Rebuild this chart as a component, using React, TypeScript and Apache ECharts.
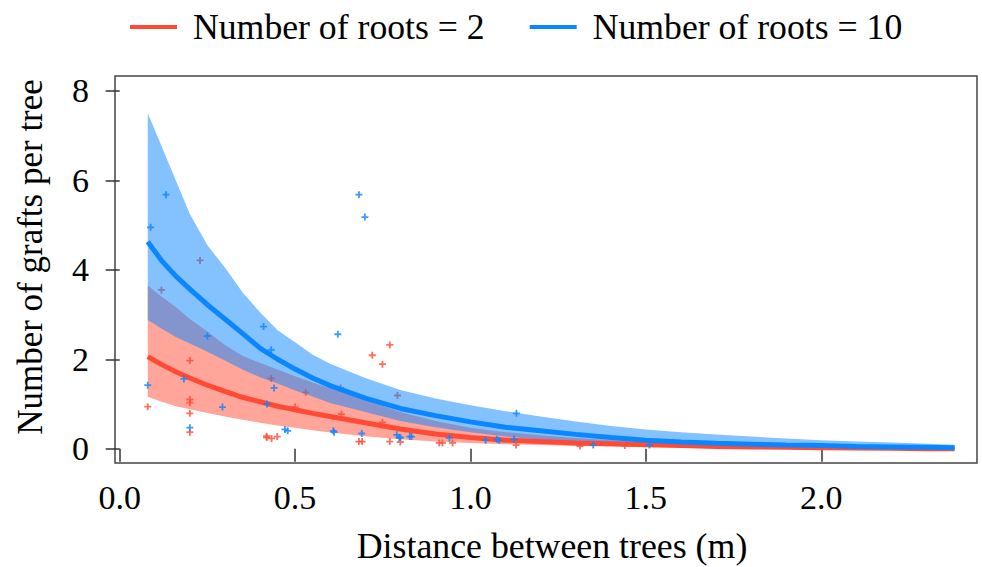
import React, { useEffect, useRef } from "react";
import * as echarts from "echarts";

const FONT = "Liberation Serif";
const RED = "#ff4b36";
const BLUE = "#0a86ff";

const seriesNames = ["Number of roots = 2", "Number of roots = 10"];
const xTicks = [0, 0.5, 1, 1.5, 2];
const xTickLabels = ["0.0", "0.5", "1.0", "1.5", "2.0"];
const yTicks = [0, 2, 4, 6, 8];
const yTickLabels = ["0", "2", "4", "6", "8"];

const distGrid = [0.08, 0.12, 0.16, 0.2, 0.25, 0.3, 0.35, 0.4, 0.45, 0.5, 0.55, 0.6, 0.7, 0.8, 0.9, 1.0, 1.1, 1.2, 1.3, 1.4, 1.5, 1.6, 1.7, 1.8, 1.9, 2.0, 2.1, 2.2, 2.3, 2.38];

const redMean = [2.06, 1.88, 1.72, 1.58, 1.42, 1.28, 1.15, 1.05, 0.95, 0.87, 0.79, 0.72, 0.58, 0.44, 0.33, 0.25, 0.19, 0.16, 0.13, 0.11, 0.09, 0.07, 0.05, 0.04, 0.03, 0.02, 0.015, 0.01, 0.0, 0.0];
const redUpper = [3.65, 3.4, 3.17, 2.9, 2.62, 2.32, 2.08, 1.92, 1.77, 1.62, 1.48, 1.35, 1.1, 0.82, 0.62, 0.47, 0.37, 0.3, 0.24, 0.19, 0.15, 0.12, 0.1, 0.08, 0.07, 0.05, 0.04, 0.03, 0.02, 0.02];
const redLower = [1.16, 1.05, 0.95, 0.88, 0.8, 0.72, 0.65, 0.58, 0.52, 0.47, 0.41, 0.36, 0.28, 0.21, 0.16, 0.13, 0.1, 0.08, 0.06, 0.05, 0.04, 0.03, 0.02, 0.015, 0.01, 0.01, 0.005, 0, 0, 0];

const blueMean = [4.63, 4.2, 3.86, 3.57, 3.22, 2.9, 2.58, 2.25, 2.0, 1.78, 1.58, 1.41, 1.13, 0.9, 0.74, 0.6, 0.48, 0.4, 0.32, 0.25, 0.19, 0.15, 0.12, 0.1, 0.08, 0.07, 0.05, 0.04, 0.03, 0.02];
const blueUpper = [7.5, 6.75, 6.0, 5.25, 4.55, 4.05, 3.5, 3.05, 2.65, 2.38, 2.1, 1.9, 1.58, 1.31, 1.12, 0.97, 0.84, 0.72, 0.61, 0.51, 0.43, 0.37, 0.32, 0.27, 0.23, 0.19, 0.16, 0.14, 0.11, 0.09];
const blueLower = [2.88, 2.68, 2.5, 2.35, 2.17, 1.97, 1.77, 1.6, 1.46, 1.3, 1.17, 1.02, 0.82, 0.62, 0.48, 0.37, 0.27, 0.2, 0.15, 0.11, 0.08, 0.06, 0.05, 0.04, 0.03, 0.02, 0.015, 0.01, 0.01, 0.005];

const redPtsX = [0.08, 0.2, 0.2, 0.2, 0.2, 0.2, 0.119, 0.229, 0.432, 0.419, 0.419, 0.433, 0.449, 0.53, 0.5, 0.63, 0.632, 0.72, 0.77, 0.749, 0.792, 0.749, 0.682, 0.691, 0.77, 0.8, 0.911, 0.92, 0.949, 1.13, 1.312, 1.44];
const redPtsY = [0.94, 1.97, 1.1, 1.03, 0.79, 0.37, 3.55, 4.21, 1.57, 0.28, 0.25, 0.23, 0.27, 1.26, 0.93, 1.36, 0.77, 2.09, 2.32, 1.89, 1.19, 0.59, 0.16, 0.16, 0.16, 0.15, 0.13, 0.13, 0.13, 0.08, 0.06, 0.07];

const bluePtsX = [0.08, 0.183, 0.2, 0.293, 0.132, 0.088, 0.682, 0.699, 0.25, 0.41, 0.432, 0.44, 0.42, 0.471, 0.479, 0.622, 0.609, 0.611, 0.69, 0.79, 0.797, 0.827, 1.131, 0.8, 0.832, 0.94, 1.043, 1.075, 1.082, 1.124, 1.35, 1.51];
const bluePtsY = [1.42, 1.56, 0.47, 0.93, 5.68, 4.95, 5.68, 5.18, 2.52, 2.73, 2.21, 1.36, 1.0, 0.43, 0.4, 2.56, 0.4, 0.37, 0.34, 0.31, 0.25, 0.27, 0.79, 0.25, 0.27, 0.24, 0.19, 0.21, 0.19, 0.21, 0.08, 0.08];

const PLUS = "path://M2,0h1.4v2h2v1.4h-2v2h-1.4v-2h-2v-1.4h2z";

function bandSeries(lo: number[], hi: number[], color: string, opacity: number, z: number) {
  const data = distGrid.map((x, i) => [x, lo[i], hi[i]]);
  return {
    type: "custom",
    z,
    silent: true,
    data,
    encode: { x: 0, y: [1, 2] },
    renderItem: (params: any, api: any) => {
      if (params.dataIndex !== 0) return null;
      const pts: number[][] = [];
      for (let i = 0; i < distGrid.length; i++) pts.push(api.coord([distGrid[i], hi[i]]));
      for (let i = distGrid.length - 1; i >= 0; i--) pts.push(api.coord([distGrid[i], lo[i]]));
      return {
        type: "polygon",
        shape: { points: pts },
        style: { fill: color, opacity, stroke: "none" },
      };
    },
  };
}

export default function App() {
  const ref = useRef<HTMLDivElement>(null);
  useEffect(() => {
    if (!ref.current) return;
    const chart = echarts.init(ref.current, null, { renderer: "svg" });
    chart.setOption({
      animation: false,
      backgroundColor: "#fff",
      textStyle: { fontFamily: FONT },
      legend: {
        data: seriesNames,
        left: 125,
        top: 4,
        icon: "rect",
        itemWidth: 47,
        itemHeight: 4,
        itemGap: 45,
        textStyle: { fontFamily: FONT, fontSize: 35.7, color: "#000", padding: [0, 0, 0, 11] },
      },
      grid: {
        left: 115,
        top: 76,
        width: 862,
        height: 387,
        show: true,
        borderColor: "#444",
        borderWidth: 1.5,
        containLabel: false,
      },
      xAxis: {
        type: "value",
        min: -0.0134,
        max: 2.444,
        axisLine: { show: false },
        splitLine: { show: false },
        axisTick: { show: true, customValues: xTicks, length: 13, lineStyle: { color: "#333", width: 1.5 } },
        axisLabel: { show: false },
      },
      yAxis: {
        type: "value",
        min: -0.32,
        max: 8.335,
        axisLine: { show: false },
        splitLine: { show: false },
        axisTick: { show: true, customValues: yTicks, length: 14, lineStyle: { color: "#333", width: 1.5 } },
        axisLabel: { show: false },
      },
      series: [
        bandSeries(redLower, redUpper, RED, 0.5, 1),
        {
          type: "scatter",
          z: 2,
          silent: true,
          symbol: PLUS,
          symbolSize: 7,
          itemStyle: { color: RED },
          data: redPtsX.map((x, i) => [x, redPtsY[i]]),
        },
        bandSeries(blueLower, blueUpper, BLUE, 0.5, 3),
        {
          name: seriesNames[0],
          type: "line",
          z: 4,
          silent: true,
          showSymbol: false,
          symbol: "none",
          color: RED,
          lineStyle: { color: RED, width: 5 },
          itemStyle: { color: RED },
          data: distGrid.map((x, i) => [x, redMean[i]]),
        },
        {
          type: "scatter",
          z: 5,
          silent: true,
          symbol: PLUS,
          symbolSize: 7,
          itemStyle: { color: BLUE },
          data: bluePtsX.map((x, i) => [x, bluePtsY[i]]),
        },
        {
          name: seriesNames[1],
          type: "line",
          z: 6,
          silent: true,
          showSymbol: false,
          symbol: "none",
          color: BLUE,
          lineStyle: { color: BLUE, width: 5 },
          itemStyle: { color: BLUE },
          data: distGrid.map((x, i) => [x, blueMean[i]]),
        },
      ],
    });

    const gridBottom = chart.convertToPixel({ yAxisIndex: 0 }, -0.32) as number;
    const gridLeft = chart.convertToPixel({ xAxisIndex: 0 }, -0.0134) as number;
    const graphics: any[] = [];
    xTicks.forEach((v, i) => {
      const px = chart.convertToPixel({ xAxisIndex: 0 }, v) as number;
      graphics.push({
        type: "text",
        id: "xl" + i,
        x: px,
        y: gridBottom + 34,
        style: { text: xTickLabels[i], fontFamily: FONT, fontSize: 34, fill: "#000", align: "center", verticalAlign: "middle" },
      });
    });
    yTicks.forEach((v, i) => {
      const py = chart.convertToPixel({ yAxisIndex: 0 }, v) as number;
      graphics.push({
        type: "text",
        id: "yl" + i,
        x: gridLeft - 26,
        y: py,
        style: { text: yTickLabels[i], fontFamily: FONT, fontSize: 34, fill: "#000", align: "right", verticalAlign: "middle" },
      });
    });
    graphics.push({
      type: "text",
      id: "ytitle",
      x: 30,
      y: 257,
      rotation: Math.PI / 2,
      style: { text: "Number of grafts per tree", fontFamily: FONT, fontSize: 35, fill: "#000", align: "center", verticalAlign: "middle" },
    });
    graphics.push({
      type: "text",
      id: "xtitle",
      x: 552,
      y: 546,
      style: { text: "Distance between trees (m)", fontFamily: FONT, fontSize: 35.8, fill: "#000", align: "center", verticalAlign: "middle" },
    });
    chart.setOption({ graphic: graphics });

    return () => chart.dispose();
  }, []);
  return (
    <div
      ref={ref}
      style={{ position: "fixed", left: 0, top: 0, width: 982, height: 567, background: "#fff" }}
    />
  );
}
